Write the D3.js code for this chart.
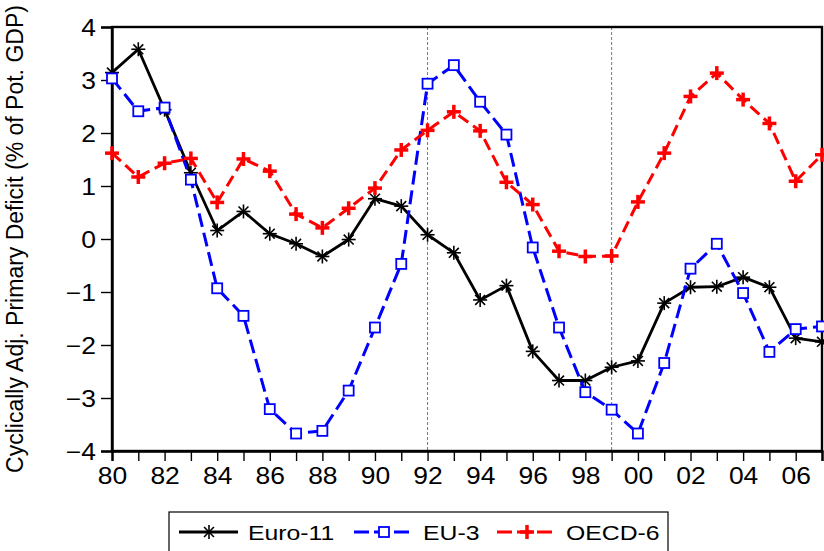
<!DOCTYPE html>
<html>
<head>
<meta charset="utf-8">
<script src="https://cdn.jsdelivr.net/npm/d3@7"></script>
<style>
  body { margin: 0; background: #fff; }
  svg { display: block; font-family: 'Liberation Sans', Arial, sans-serif; }
</style>
</head>
<body>
<svg id="chart" width="824" height="551"></svg>
<script>
// years 1980..2007
const years = d3.range(1980, 2008);

const euro11 = [3.14, 3.58, 2.44, 1.25, 0.16, 0.52, 0.10, -0.09, -0.33, -0.01,
	0.76, 0.62, 0.08, -0.26, -1.15, -0.88, -2.12, -2.67, -2.67, -2.42,
	-2.30, -1.21, -0.91, -0.90, -0.72, -0.91, -1.87, -1.94];

const eu3 = [3.03, 2.41, 2.48, 1.12, -0.93, -1.45, -3.21, -3.67, -3.62, -2.86,
	-1.67, -0.47, 2.93, 3.28, 2.59, 1.97, -0.16, -1.67, -2.89, -3.22,
	-3.67, -2.34, -0.56, -0.09, -1.02, -2.13, -1.70, -1.65];

const oecd6 = [1.62, 1.17, 1.43, 1.52, 0.69, 1.51, 1.28, 0.47, 0.21, 0.58,
	0.96, 1.68, 2.05, 2.40, 2.04, 1.07, 0.65, -0.23, -0.33, -0.32,
	0.70, 1.62, 2.69, 3.13, 2.63, 2.18, 1.09, 1.59];

const yTicks = [-4, -3, -2, -1, 0, 1, 2, 3, 4];
const markerYears = [1992, 1999];

const seriesNames = ['Euro-11', 'EU-3', 'OECD-6'];

const svg = d3.select('#chart');
const margin = { top: 27, right: 2, bottom: 100, left: 112 };
const width = 824 - margin.left - margin.right;
const height = 551 - margin.top - margin.bottom;

const x = d3.scaleLinear().domain([1980, 2007]).range([0, width]);
const y = d3.scaleLinear().domain([-4, 4]).range([height, 0]);

const g = svg.append('g').attr('transform', `translate(${margin.left},${margin.top})`);

// dotted reference lines
g.selectAll('.vline')
	.data(markerYears)
	.enter().append('line')
	.attr('x1', d => x(d)).attr('x2', d => x(d))
	.attr('y1', 0).attr('y2', height)
	.attr('stroke', '#777')
	.attr('stroke-width', 1)
	.attr('stroke-dasharray', '3,2');

// frame
g.append('rect')
	.attr('width', width).attr('height', height)
	.attr('fill', 'none')
	.attr('stroke', '#000')
	.attr('stroke-width', 2.4);

// axes
const xAxis = g.append('g')
	.attr('transform', `translate(0,${height})`)
	.call(d3.axisBottom(x)
		.tickValues(years)
		.tickSize(10)
		.tickFormat(d => d % 2 === 0 ? String(d).slice(2) : ''));

const yAxis = g.append('g')
	.call(d3.axisLeft(y).tickValues(yTicks).tickSize(11).tickFormat(d3.format('d')));

[xAxis, yAxis].forEach(a => {
	a.select('.domain').attr('stroke', '#000').attr('stroke-width', 2.4);
	a.selectAll('.tick line').attr('stroke', '#000').attr('stroke-width', 1.4);
	a.selectAll('.tick text').attr('fill', '#000').attr('font-size', '23px')
		.style('font-family', "'Liberation Sans', Arial, sans-serif");
});
xAxis.selectAll('.tick text')
	.attr('y', 33).attr('dy', 0)
	.attr('transform', 'scale(1.15,1)');
yAxis.selectAll('.tick text')
	.attr('x', -16 / 1.15)
	.attr('dy', '0.36em')
	.attr('transform', 'scale(1.15,1)');

// y axis title
svg.append('text')
	.attr('transform', `translate(23,${margin.top + height / 2}) rotate(-90)`)
	.attr('text-anchor', 'middle')
	.attr('font-size', '23px')
	.attr('fill', '#000')
	.text('Cyclically Adj. Primary Deficit (% of Pot. GDP)');

const line = d3.line().x((d, i) => x(years[i])).y(d => y(d));

const styles = [
	{ data: euro11, color: '#000', dash: null, width: 2.8, marker: 'star' },
	{ data: eu3, color: '#0000ff', dash: '14,6', width: 3, marker: 'square' },
	{ data: oecd6, color: '#ff0000', dash: '12,6', width: 3, marker: 'plus' }
];

function drawMarker(sel, kind, color) {
	if (kind === 'star') {
		const r = 7;
		[0, 45, 90, 135].forEach(a => {
			const rad = a * Math.PI / 180;
			sel.append('line')
				.attr('x1', -r * Math.cos(rad)).attr('y1', -r * Math.sin(rad))
				.attr('x2', r * Math.cos(rad)).attr('y2', r * Math.sin(rad))
				.attr('stroke', color).attr('stroke-width', 1.6);
		});
	} else if (kind === 'square') {
		sel.append('rect')
			.attr('x', -5).attr('y', -5).attr('width', 10).attr('height', 10)
			.attr('fill', '#fff').attr('stroke', color).attr('stroke-width', 1.8);
	} else {
		const r = 7;
		sel.append('line').attr('x1', -r).attr('x2', r).attr('y1', 0).attr('y2', 0)
			.attr('stroke', color).attr('stroke-width', 3.5);
		sel.append('line').attr('x1', 0).attr('x2', 0).attr('y1', -r).attr('y2', r)
			.attr('stroke', color).attr('stroke-width', 3.5);
	}
}

const plot = g.append('g');
styles.forEach(s => {
	plot.append('path')
		.datum(s.data)
		.attr('d', line)
		.attr('fill', 'none')
		.attr('stroke', s.color)
		.attr('stroke-width', s.width)
		.attr('stroke-dasharray', s.dash)
		.attr('stroke-linejoin', 'round');

	plot.append('g').selectAll('g')
		.data(s.data)
		.enter().append('g')
		.attr('transform', (d, i) => `translate(${x(years[i])},${y(d)})`)
		.each(function() { drawMarker(d3.select(this), s.marker, s.color); });
});

// legend
const legend = svg.append('g').attr('transform', 'translate(169,512)');
legend.append('rect')
	.attr('width', 499).attr('height', 45)
	.attr('fill', '#fff').attr('stroke', '#000').attr('stroke-width', 1.2);

const legendX = [10, 185, 328];
styles.forEach((s, i) => {
	const it = legend.append('g').attr('transform', `translate(${legendX[i]},20)`);
	it.append('line')
		.attr('x1', 0).attr('x2', 59).attr('y1', 0).attr('y2', 0)
		.attr('stroke', s.color).attr('stroke-width', s.width)
		.attr('stroke-dasharray', s.dash ? '15,5' : null);
	const m = it.append('g').attr('transform', 'translate(30,0)');
	drawMarker(m, s.marker, s.color);
	it.append('text')
		.attr('transform', 'translate(69,8) scale(1.18,1)')
		.attr('font-size', '21px')
		.attr('fill', '#000')
		.text(seriesNames[i]);
});
</script>
</body>
</html>
